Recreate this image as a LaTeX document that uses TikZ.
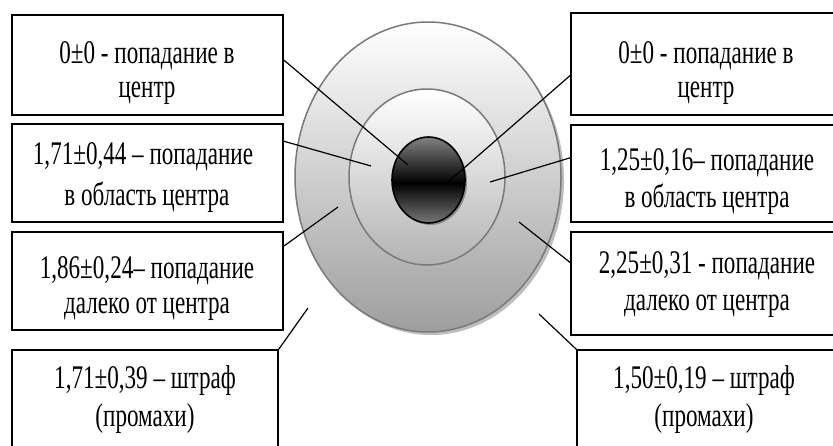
\documentclass[tikz,border=0pt]{standalone}
\usepackage{fontspec}
\setmainfont{Liberation Serif}[FakeStretch=0.70]
\usetikzlibrary{calc}
\definecolor{ringline}{HTML}{7A7A7A}
\definecolor{shadowc}{HTML}{BDBDBD}
\begin{document}
\begin{tikzpicture}[x=1pt,y=-1pt,
  box/.style={draw=black,line width=1.4pt,fill=white,rectangle,inner sep=0pt},
  txt/.style={inner sep=0pt,anchor=base,font=\fontsize{33}{36}\selectfont},
  conn/.style={draw=black,line width=1.2pt}]
\useasboundingbox (0,0) rectangle (833,445);
\clip (0,0) rectangle (833,445);
% target
\fill[shadowc] (431,180) ellipse [x radius=133, y radius=155];
\shade[top color=white, bottom color=black!38] (428,177) ellipse [x radius=133, y radius=155];
\draw[ringline,line width=1.5pt] (428,177) ellipse [x radius=133, y radius=155];
\shade[top color=white, bottom color=black!30] (427,177) ellipse [x radius=78, y radius=88];
\draw[ringline,line width=1.5pt] (427,177) ellipse [x radius=78, y radius=88];
\fill[black!45] (430.5,182) ellipse [x radius=36.5, y radius=43];
\begin{scope}
  \clip (428.5,180) ellipse [x radius=36.5, y radius=43];
  \shade[top color=black!48, bottom color=black] (390,136) rectangle (467,183);
  \shade[top color=black, bottom color=black!52] (390,183) rectangle (467,224);
\end{scope}
\draw[black,line width=1.6pt] (428.5,180) ellipse [x radius=36.5, y radius=43];
% boxes
\node[box,minimum width=271pt,minimum height=100pt] (bL1) at (147.5,65) {};
\node[box,minimum width=271pt,minimum height=98pt] (bL2) at (147.5,173) {};
\node[box,minimum width=271pt,minimum height=98pt] (bL3) at (147.5,281) {};
\node[box,minimum width=266pt,minimum height=110pt] (bL4) at (145,405) {};
\node[box,minimum width=270pt,minimum height=102pt] (bR1) at (706,64) {};
\node[box,minimum width=270pt,minimum height=97pt] (bR2) at (706,173.5) {};
\node[box,minimum width=270pt,minimum height=103pt] (bR3) at (706,283.5) {};
\node[box,minimum width=264pt,minimum height=110pt] (bR4) at (709,405) {};
% texts
\node[txt] (tL1a) at (147,63) {0±0 - попадание в};
\node[txt] (tL1b) at (147,97) {центр};
\node[txt] (tL2a) at (143,164) {1,71±0,44 – попадание};
\node[txt] (tL2b) at (147,205) {в область центра};
\node[txt] (tL3a) at (147,278) {1,86±0,24– попадание};
\node[txt] (tL3b) at (147,313) {далеко от центра};
\node[txt] (tL4a) at (145,388) {1,71±0,39 – штраф};
\node[txt] (tL4b) at (145,426) {(промахи)};
\node[txt] (tR1a) at (706,63) {0±0 - попадание в};
\node[txt] (tR1b) at (706,97) {центр};
\node[txt] (tR2a) at (707,170) {1,25±0,16– попадание};
\node[txt] (tR2b) at (707,207) {в область центра};
\node[txt] (tR3a) at (707,273) {2,25±0,31 - попадание};
\node[txt] (tR3b) at (707,310) {далеко от центра};
\node[txt] (tR4a) at (704,388) {1,50±0,19 – штраф};
\node[txt] (tR4b) at (704,426) {(промахи)};
% connector ends
\coordinate (eL1) at (408,165);
\coordinate (eL2) at (371,166);
\coordinate (eL3) at (338,207);
\coordinate (eL4) at (308,308);
\coordinate (eR1) at (448,182);
\coordinate (eR2) at (490,182);
\coordinate (eR3) at (519,222);
\coordinate (eR4) at (539,314);
\draw[conn] ($(bL1.north east)!0.45!(bL1.south east)$) -- (eL1);
\draw[conn] ($(bL2.north east)!0.18!(bL2.south east)$) -- (eL2);
\draw[conn] ($(bL3.north east)!0.15!(bL3.south east)$) -- (eL3);
\draw[conn] (bL4.north east) -- (eL4);
\draw[conn] ($(bR1.north west)!0.61!(bR1.south west)$) -- (eR1);
\draw[conn] ($(bR2.north west)!0.34!(bR2.south west)$) -- (eR2);
\draw[conn] ($(bR3.north west)!0.30!(bR3.south west)$) -- (eR3);
\draw[conn] (bR4.north west) -- (eR4);
\end{tikzpicture}
\end{document}
